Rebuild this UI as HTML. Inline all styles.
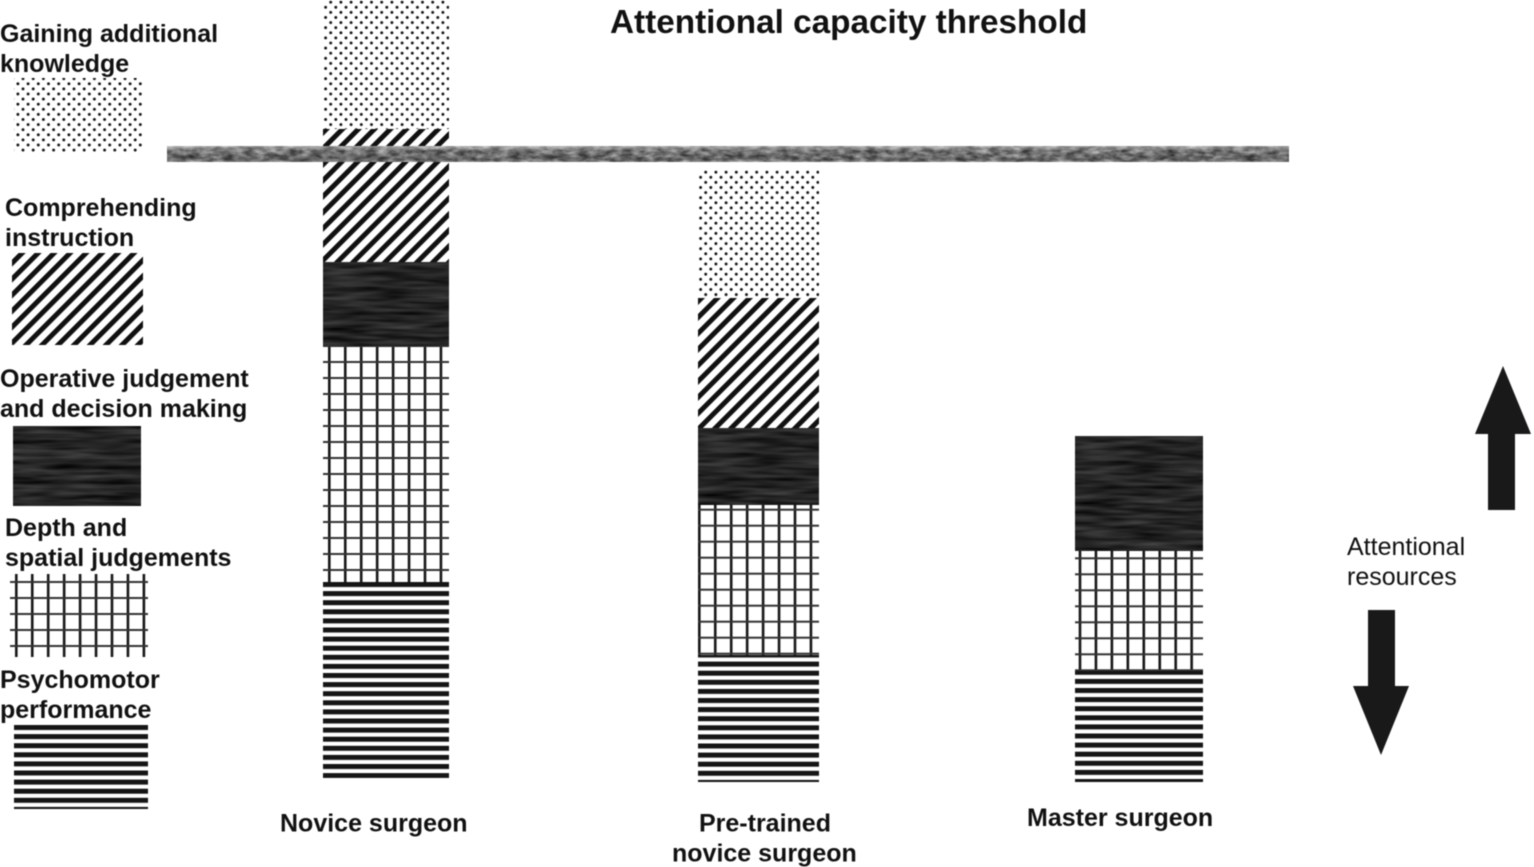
<!DOCTYPE html>
<html lang="en">
<head>
<meta charset="utf-8">
<title>Attentional capacity threshold</title>
<style>
html,body{margin:0;padding:0;background:#fff;}
svg{display:block;filter:blur(0.4px);}
text{font-family:"Liberation Sans",Arial,sans-serif;fill:#111;}
.b{font-weight:700;font-size:25px;}
.r{font-weight:400;font-size:25px;}
.t{font-weight:700;font-size:33.3px;}
</style>
</head>
<body>
<svg id="chart" xmlns="http://www.w3.org/2000/svg" width="1534" height="867" viewBox="0 0 1534 867">
<defs>
<pattern id="p-dots" patternUnits="userSpaceOnUse" width="10.2" height="10.2">
<circle cx="7.7" cy="2.2" r="1.45" fill="#111"/>
<circle cx="2.6" cy="7.3" r="1.45" fill="#111"/>
</pattern>
<pattern id="p-diag" patternUnits="userSpaceOnUse" width="11.3" height="11.3" patternTransform="rotate(45)">
<rect width="11.3" height="11.3" fill="#fff"/>
<rect x="0" y="0" width="5" height="11.3" fill="#111"/>
</pattern>
<pattern id="p-grid" patternUnits="userSpaceOnUse" width="15.95" height="16">
<rect x="5" y="0" width="2.6" height="16" fill="#161616"/>
<rect x="0" y="15" width="15.95" height="1" fill="#333"/>
<rect x="0" y="0" width="15.95" height="1" fill="#333"/>
</pattern>
<pattern id="p-lines" patternUnits="userSpaceOnUse" width="10" height="9.1">
<rect width="10" height="9.1" fill="#fff"/>
<rect y="0" width="10" height="5" fill="#151515"/>
</pattern>
<filter id="f-wave" x="0" y="0" width="100%" height="100%" color-interpolation-filters="sRGB">
<feTurbulence type="fractalNoise" baseFrequency="0.02 0.2" numOctaves="2" seed="7"/>
<feColorMatrix type="matrix" values="0.35 0 0 0 -0.03  0.35 0 0 0 -0.03  0.35 0 0 0 -0.03  0 0 0 0 1"/>
</filter>
<filter id="f-rock" x="0" y="0" width="100%" height="100%" color-interpolation-filters="sRGB">
<feTurbulence type="fractalNoise" baseFrequency="0.09 0.22" numOctaves="3" seed="3"/>
<feColorMatrix type="matrix" values="0.75 0 0 0 0.04  0.75 0 0 0 0.04  0.75 0 0 0 0.04  0 0 0 0 1"/>
</filter>
<linearGradient id="g-rock" x1="0" y1="0" x2="0" y2="1">
<stop offset="0" stop-color="#fff" stop-opacity="0.4"/>
<stop offset="0.3" stop-color="#fff" stop-opacity="0.05"/>
<stop offset="0.8" stop-color="#000" stop-opacity="0.1"/>
<stop offset="1" stop-color="#fff" stop-opacity="0.2"/>
</linearGradient>
</defs>

<rect width="1534" height="867" fill="#fff"/>

<g id="bars"></g>

<rect x="167" y="146" width="1122" height="16" fill="#666" filter="url(#f-rock)"/>
<rect x="167" y="146" width="1122" height="16" fill="url(#g-rock)"/>

<text class="t" x="610" y="33">Attentional capacity threshold</text>

<g>
<g>
<text class="b" x="0" y="42">Gaining additional</text>
<text class="b" x="0" y="72">knowledge</text>
<rect x="14" y="78" width="129" height="74" fill="url(#p-dots)"/>
</g>
<g>
<text class="b" x="5" y="216">Comprehending</text>
<text class="b" x="5" y="246">instruction</text>
<rect x="12" y="253" width="131" height="92" fill="url(#p-diag)"/>
</g>
<g>
<text class="b" x="0" y="387">Operative judgement</text>
<text class="b" x="0" y="417">and decision making</text>
<rect x="13" y="426" width="128" height="80" fill="#222" filter="url(#f-wave)"/>
</g>
<g>
<text class="b" x="5" y="536">Depth and</text>
<text class="b" x="5" y="566">spatial judgements</text>
<g transform="translate(10,566)"><rect x="0" y="8" width="138" height="83" fill="url(#p-grid)"/></g>
</g>
<g>
<text class="b" x="0" y="688">Psychomotor</text>
<text class="b" x="0" y="718">performance</text>
<g transform="translate(14,725)"><rect x="0" y="0" width="134" height="84" fill="url(#p-lines)"/></g>
</g>
</g>

<text class="b" x="280" y="831.5">Novice surgeon</text>
<text class="b" x="699" y="831.5">Pre-trained</text>
<text class="b" x="672" y="861.5">novice surgeon</text>
<text class="b" x="1027" y="826">Master surgeon</text>

<polygon points="1503,366 1531,434 1515,434 1515,510 1488,510 1488,434 1475,434" fill="#191919"/>
<polygon points="1368,610 1395,610 1395,686 1409,686 1381,755 1353,686 1368,686" fill="#191919"/>
<text class="r" x="1347" y="555">Attentional</text>
<text class="r" x="1347" y="585">resources</text>
</svg>

<script>
const categories = ["Novice surgeon", "Pre-trained novice surgeon", "Master surgeon"];
const baselineOffset = [4, 0, 0];
const psychomotor = [196, 127, 111];
const depthSpatial = [236, 150, 120];
const judgement = [84, 77, 115];
const comprehending = [133, 130, 0];
const knowledge = [129, 128, 0];

const seriesNames = ["psychomotor", "depth-spatial", "judgement", "comprehending", "knowledge"];
const seriesValues = [psychomotor, depthSpatial, judgement, comprehending, knowledge];
const seriesFills = ["url(#p-lines)", "url(#p-grid)", "#222", "url(#p-diag)", "url(#p-dots)"];

function xBand(i) { return [323, 698, 1075][i]; }
function bandWidth(i) { return [126, 121, 128][i]; }
function yScale(v) { return 782 - v; }
function patternShift(seriesName, i) {
  if (seriesName === "psychomotor") { return [0, [0, -2.5, -1.2][i]]; }
  if (seriesName === "depth-spatial") { return [[0, -5, -1.3][i], [0, 4.7, -8.7][i]]; }
  return [0, 0];
}

const NS = "http://www.w3.org/2000/svg";
const root = document.getElementById("bars");

categories.forEach(function (cat, i) {
  let acc = baselineOffset[i];
  seriesValues.forEach(function (vals, s) {
    const v = vals[i];
    if (v <= 0) { return; }
    const top = yScale(acc + v);
    const shift = patternShift(seriesNames[s], i);
    const g = document.createElementNS(NS, "g");
    g.setAttribute("transform", "translate(" + (xBand(i) + shift[0]) + "," + (top + shift[1]) + ")");
    const r = document.createElementNS(NS, "rect");
    
    
    r.setAttribute("x", -shift[0]);
    r.setAttribute("y", -shift[1]);
    r.setAttribute("width", bandWidth(i));
    r.setAttribute("height", v);
    r.setAttribute("fill", seriesFills[s]);
    if (seriesNames[s] === "judgement") {
      r.setAttribute("filter", "url(#f-wave)");
    }
    g.appendChild(r);
    root.appendChild(g);
    acc += v;
  });
});
</script>
</body>
</html>
